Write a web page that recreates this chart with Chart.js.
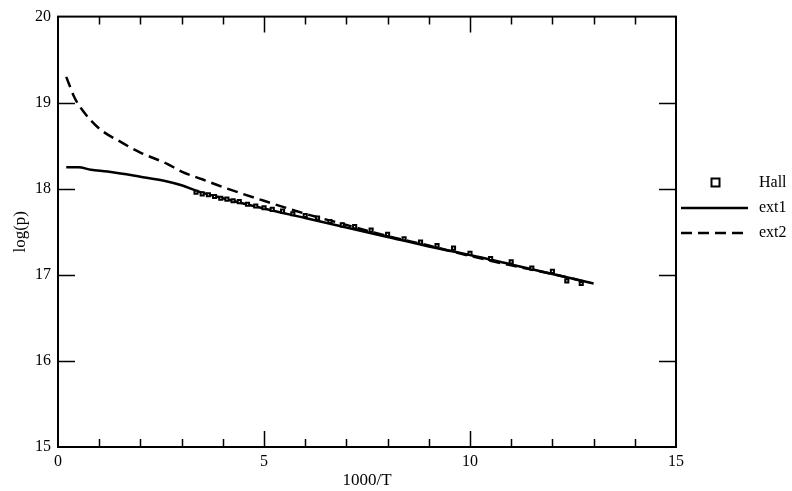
<!DOCTYPE html>
<html>
<head>
<meta charset="utf-8">
<script src="https://cdn.jsdelivr.net/npm/chart.js@4.4.1/dist/chart.umd.min.js"></script>
<style>
    html, body { margin: 0; padding: 0; background: #fff; }
    #wrap { width: 792px; height: 491px; }
</style>
</head>
<body>
<div id="wrap"><canvas id="chart" width="792" height="491"></canvas></div>
<script>
// данные
const hallX = [3.35, 3.5, 3.65, 3.8, 3.95, 4.1, 4.25, 4.4, 4.6, 4.8, 5.0, 5.2, 5.45, 5.7, 6.0, 6.3, 6.6, 6.9, 7.2, 7.6, 8.0, 8.4, 8.8, 9.2, 9.6, 10.0, 10.5, 11.0, 11.5, 12.0, 12.35, 12.7];
const hallY = [17.96, 17.94, 17.93, 17.91, 17.89, 17.88, 17.86, 17.85, 17.82, 17.80, 17.78, 17.76, 17.74, 17.71, 17.69, 17.66, 17.62, 17.58, 17.56, 17.52, 17.47, 17.42, 17.38, 17.34, 17.31, 17.25, 17.19, 17.15, 17.08, 17.04, 16.93, 16.90];

const ext1X = [0.2, 0.5, 0.8, 1.2, 2.0, 2.6, 3.0, 3.4, 4, 5, 6, 7, 8, 9, 10, 11, 12, 13];
const ext1Y = [18.25, 18.25, 18.22, 18.20, 18.14, 18.09, 18.04, 17.97, 17.89, 17.77, 17.66, 17.55, 17.44, 17.33, 17.23, 17.12, 17.01, 16.90];

const ext2X = [0.2, 0.4, 0.55, 1.0, 1.5, 2.0, 2.65, 3.0, 3.5, 4, 5, 6, 7, 8, 9, 10, 11, 12, 12.9];
const ext2Y = [19.30, 19.06, 18.94, 18.70, 18.55, 18.42, 18.29, 18.20, 18.11, 18.02, 17.86, 17.71, 17.58, 17.45, 17.34, 17.22, 17.11, 17.01, 16.91];

const xTicks = [0, 5, 10, 15];
const yTicks = [15, 16, 17, 18, 19, 20];

const font = "Liberation Serif";

function pts(xs, ys) {
    return xs.map((x, i) => ({ x: x, y: ys[i] }));
}

// рамка, внутренние засечки и легенда
const framePlugin = {
    id: "frame",
    afterDraw(chart) {
        const ctx = chart.ctx;
        const a = chart.chartArea;
        const xs = chart.scales.x;
        const ys = chart.scales.y;
        ctx.save();
        ctx.strokeStyle = "#000";
        ctx.lineWidth = 2;
        ctx.strokeRect(a.left, a.top, a.right - a.left, a.bottom - a.top);

        ctx.lineWidth = 1.5;
        ctx.beginPath();
        for (let v = 1; v < 15; v++) {
            const px = Math.round(xs.getPixelForValue(v)) + 0.5;
            const len = v % 5 === 0 ? 16 : 8;
            ctx.moveTo(px, a.bottom);
            ctx.lineTo(px, a.bottom - len);
            ctx.moveTo(px, a.top);
            ctx.lineTo(px, a.top + len);
        }
        for (let v = 16; v < 20; v++) {
            const py = Math.round(ys.getPixelForValue(v)) + 0.5;
            ctx.moveTo(a.left, py);
            ctx.lineTo(a.left + 17, py);
            ctx.moveTo(a.right, py);
            ctx.lineTo(a.right - 17, py);
        }
        ctx.stroke();

        // легенда
        const ds = chart.data.datasets;
        const tx = 759;
        ctx.font = "16px '" + font + "'";
        ctx.textBaseline = "middle";
        ctx.textAlign = "left";

        ctx.lineWidth = 2;
        ctx.fillStyle = "#fff";
        ctx.fillRect(711.5, 178.5, 8, 8);
        ctx.strokeRect(711.5, 178.5, 8, 8);
        ctx.fillStyle = "#000";
        ctx.fillText(ds[0].label, tx, 183);

        ctx.lineWidth = 2.5;
        ctx.beginPath();
        ctx.moveTo(681, 208);
        ctx.lineTo(748, 208);
        ctx.stroke();
        ctx.fillText(ds[1].label, tx, 208);

        ctx.setLineDash(ds[2].borderDash);
        ctx.beginPath();
        ctx.moveTo(681, 233);
        ctx.lineTo(748, 233);
        ctx.stroke();
        ctx.setLineDash([]);
        ctx.fillText(ds[2].label, tx, 233);
        ctx.restore();
    }
};

new Chart(document.getElementById("chart"), {
    type: "line",
    data: {
        datasets: [
            {
                label: "Hall",
                data: pts(hallX, hallY),
                showLine: false,
                pointStyle: "rect",
                pointRadius: 2.2,
                pointBorderWidth: 2,
                pointBorderColor: "#000",
                pointBackgroundColor: "#fff",
                borderColor: "#000",
            },
            {
                label: "ext1",
                data: pts(ext1X, ext1Y),
                borderColor: "#000",
                borderWidth: 2.5,
                pointRadius: 0,
                cubicInterpolationMode: "monotone",
            },
            {
                label: "ext2",
                data: pts(ext2X, ext2Y),
                borderColor: "#000",
                borderWidth: 2.5,
                borderDash: [11, 6],
                pointRadius: 0,
                cubicInterpolationMode: "monotone",
            },
        ],
    },
    options: {
        responsive: false,
        animation: false,
        layout: { padding: { top: 15, right: 116, left: 0, bottom: 0 } },
        plugins: {
            legend: { display: false },
            tooltip: { enabled: false },
        },
        scales: {
            x: {
                type: "linear",
                min: 0,
                max: 15,
                afterFit: (s) => { s.height = 44; },
                afterBuildTicks: (s) => { s.ticks = xTicks.map((v) => ({ value: v })); },
                grid: { display: false, drawTicks: false },
                border: { display: false },
                ticks: { color: "#000", padding: 5, font: { family: font, size: 16 } },
                title: { display: true, text: "1000/T", color: "#000", padding: 0, font: { family: font, size: 17 } },
            },
            y: {
                type: "linear",
                min: 15,
                max: 20,
                afterFit: (s) => { s.width = 58; },
                afterBuildTicks: (s) => { s.ticks = yTicks.map((v) => ({ value: v })); },
                grid: { display: false, drawTicks: false },
                border: { display: false },
                ticks: { color: "#000", padding: 7, font: { family: font, size: 16 } },
                title: { display: true, text: "log(p)", color: "#000", padding: { top: 10, bottom: 0 }, font: { family: font, size: 17 } },
            },
        },
    },
    plugins: [framePlugin],
});
</script>
</body>
</html>
